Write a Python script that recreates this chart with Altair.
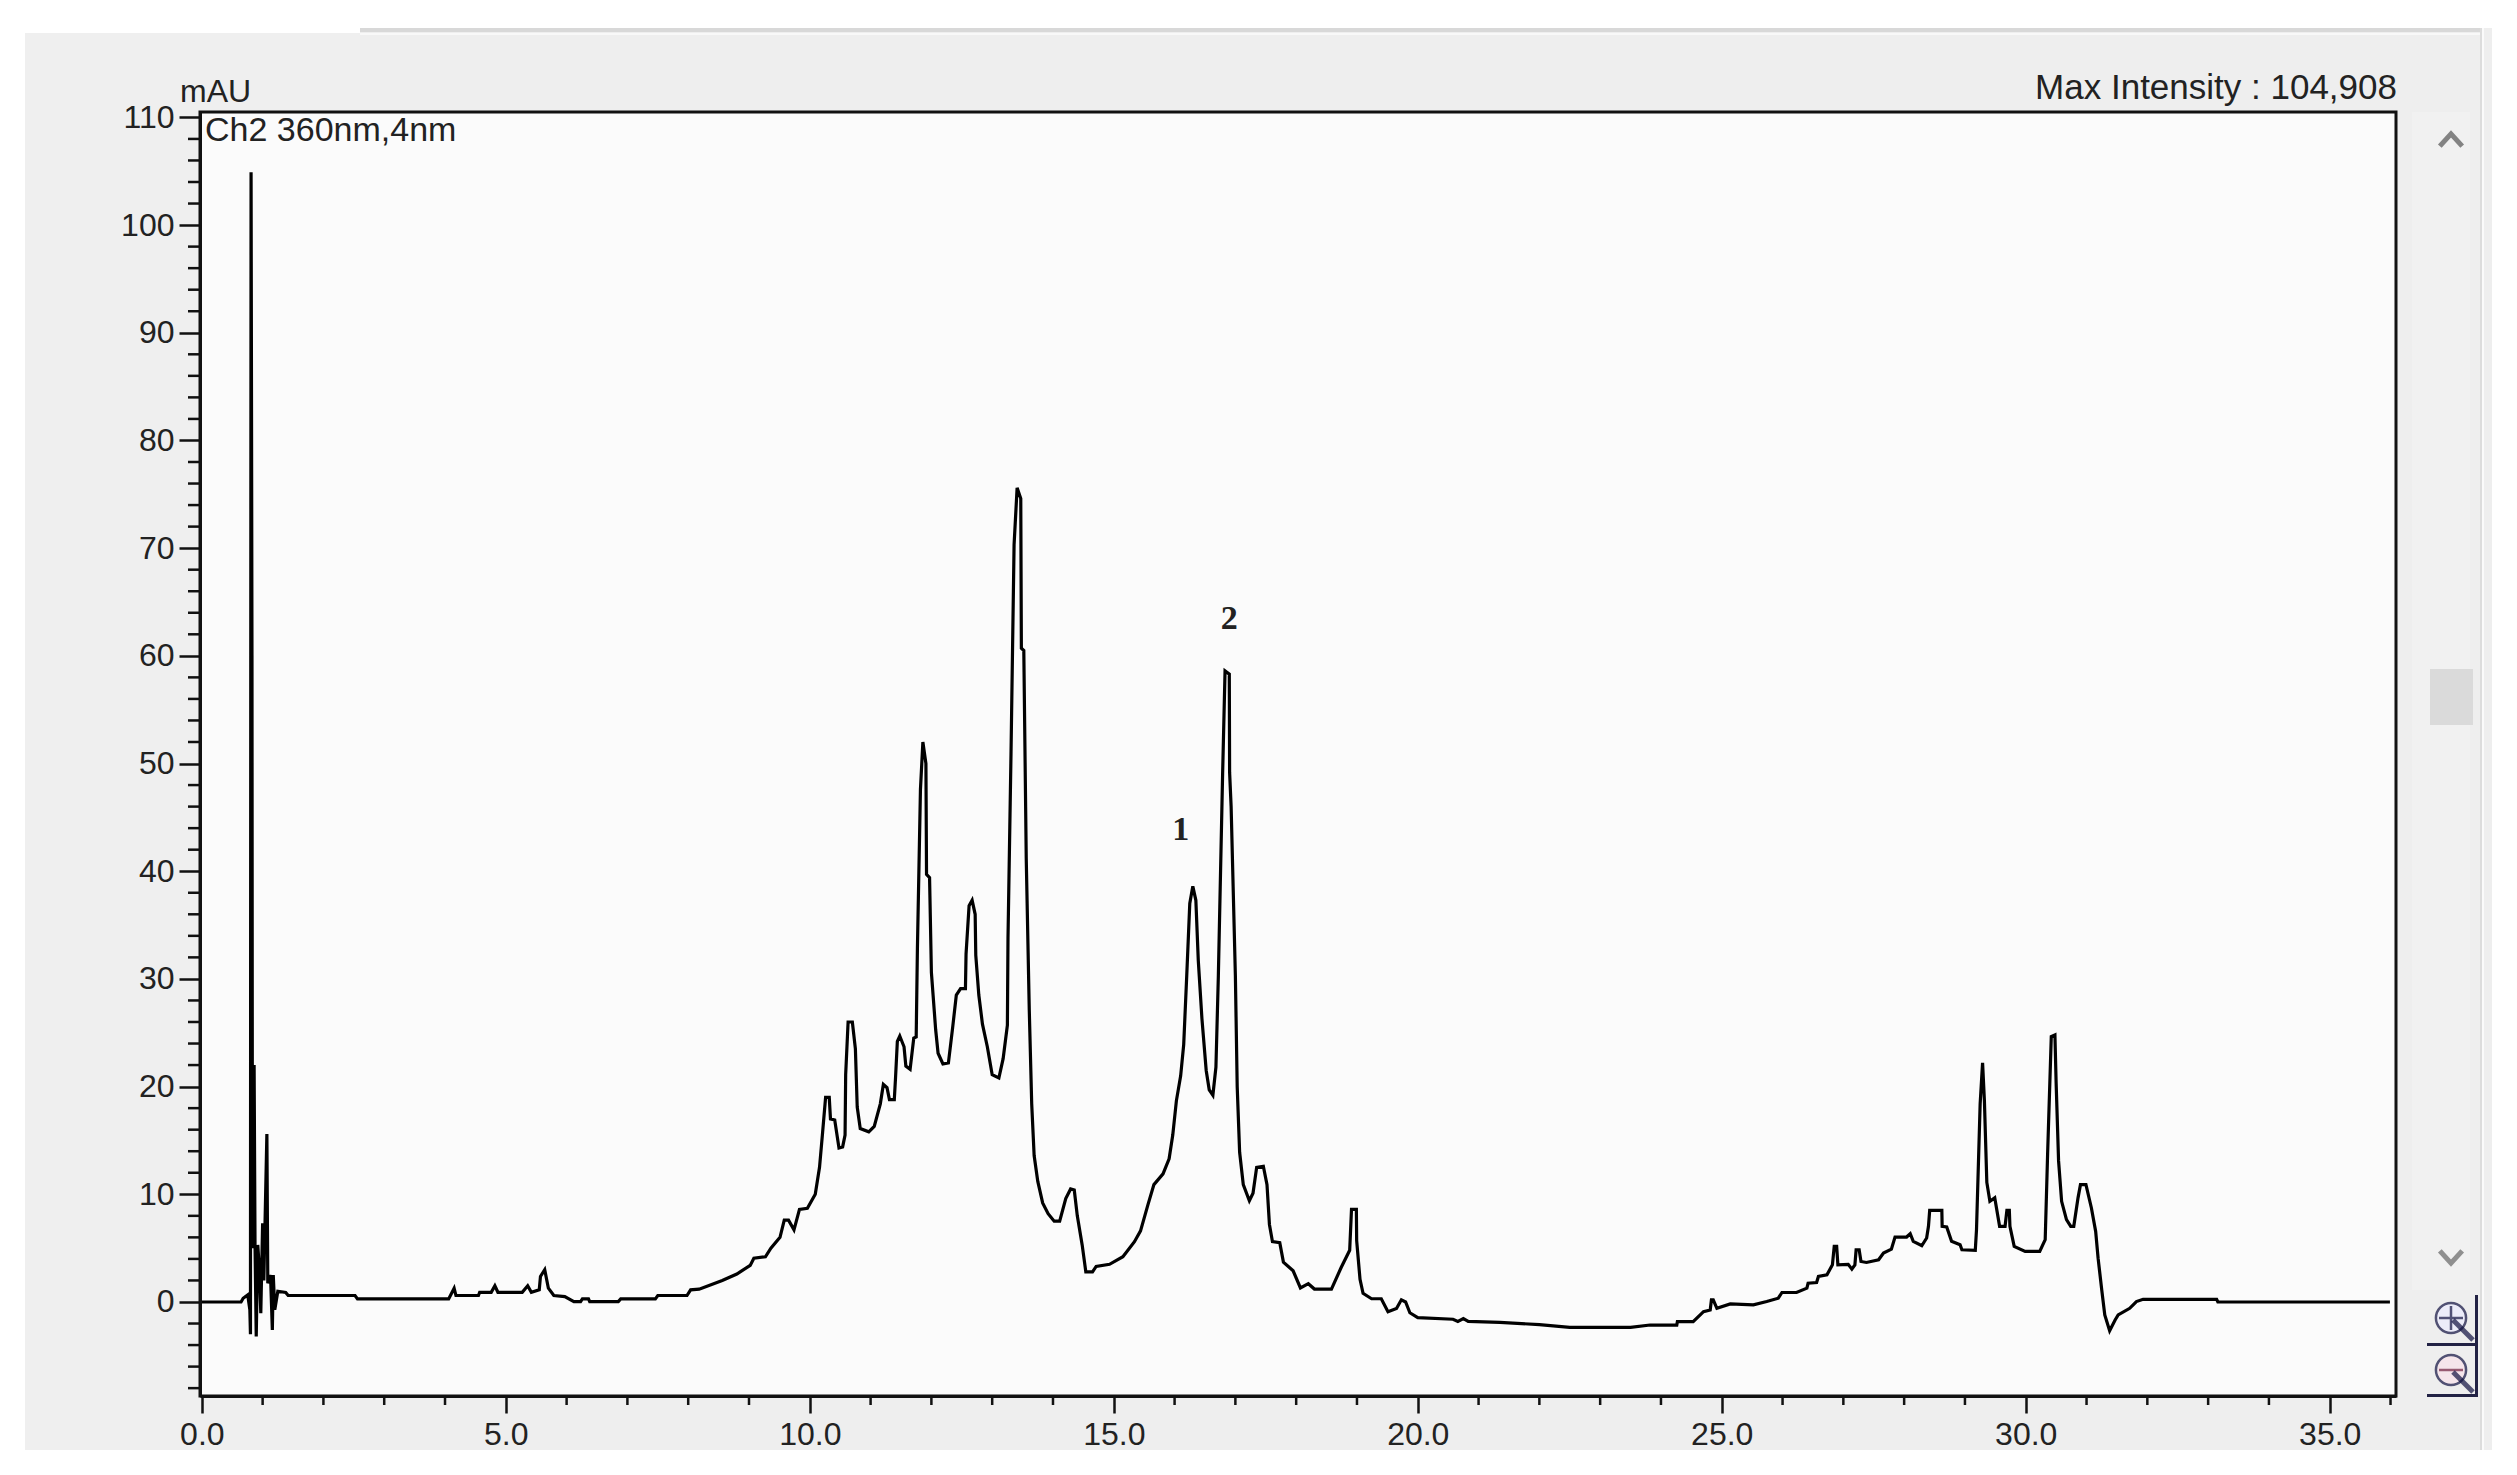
import altair as alt
import pandas as pd

# Chromatogram trace (minutes, mAU)
trace = [
(0,0),(0.645,0),(0.68,0.35),(0.755,0.66),(0.79,-0.73),(0.80,-3.0),(0.805,60),(0.81,104.9),(0.825,60),(0.83,22.3),(0.845,5),(0.86,22),(0.875,5.3),(0.895,-3.2),(0.92,5.3),(0.95,2.8),(0.97,-1.05),(1.0,7.3),(1.02,2),(1.07,15.6),(1.085,1.75),(1.13,2.5),(1.16,-2.6),(1.175,2.5),(1.2,-0.73),(1.25,1.0),
(1.38,0.88),(1.42,0.6),(2.52,0.6),(2.56,0.29),(4.06,0.29),(4.15,1.28),(4.18,0.6),(4.55,0.6),(4.57,0.9),(4.76,0.9),(4.82,1.5),(4.87,0.9),(5.27,0.9),(5.36,1.5),(5.42,0.9),(5.55,1.13),(5.57,2.37),(5.64,3.0),(5.7,1.28),(5.79,0.6),(5.97,0.5),(6.12,0.04),(6.23,0.04),(6.26,0.29),(6.36,0.29),(6.38,0.04),(6.85,0.04),(6.89,0.29),(7.46,0.29),(7.5,0.6),(7.98,0.6),(8.04,1.13),(8.18,1.19),(8.56,2.0),(8.8,2.6),
(9.02,3.4),(9.08,4.06),(9.27,4.2),(9.36,5.0),(9.51,6.0),(9.58,7.6),(9.65,7.6),(9.74,6.7),(9.83,8.6),(9.96,8.7),(10.09,10.0),(10.16,12.5),(10.21,15.7),(10.26,19.0),(10.32,19.0),(10.34,17.0),(10.41,16.9),(10.48,14.3),(10.54,14.4),(10.58,15.5),(10.59,21.1),(10.63,26.0),(10.70,26.0),(10.75,23.5),(10.78,18.1),(10.83,16.1),(10.97,15.8),(11.06,16.3),(11.16,18.4),(11.21,20.2),(11.27,19.9),(11.31,18.8),(11.39,18.8),(11.41,20.8),(11.44,24.2),(11.48,24.7),(11.55,23.7),(11.58,21.9),(11.65,21.6),(11.71,24.5),(11.75,24.6),(11.77,32.8),(11.82,47.6),(11.86,52.0),(11.91,50.0),(11.92,39.7),(11.97,39.4),(12.0,30.6),(12.07,25.3),(12.11,23.1),(12.19,22.1),(12.28,22.2),(12.35,25.5),(12.41,28.5),(12.48,29.1),(12.56,29.1),(12.57,32.3),(12.62,36.8),(12.67,37.3),(12.72,36.0),(12.73,32.2),(12.78,28.5),(12.84,25.8),(12.92,23.7),(13.0,21.1),(13.11,20.8),(13.18,22.6),(13.25,25.7),(13.26,33.8),(13.31,51.1),(13.36,70.3),(13.41,75.6),(13.47,74.6),(13.48,60.7),(13.52,60.5),(13.56,41.2),(13.61,27.1),(13.65,18.4),(13.69,13.6),(13.75,11.2),(13.83,9.2),(13.92,8.2),(14.02,7.5),(14.11,7.5),(14.21,9.6),(14.29,10.5),(14.35,10.4),(14.40,8.0),(14.48,5.3),(14.54,2.8),(14.65,2.8),(14.71,3.3),(14.93,3.5),(15.15,4.2),(15.34,5.6),(15.44,6.6),(15.56,9.0),(15.66,10.9),(15.81,11.9),(15.91,13.3),(15.97,15.5),(16.03,18.7),(16.10,21.0),(16.15,23.9),(16.20,30.3),(16.25,37.0),(16.30,38.6),(16.35,37.3),(16.39,31.7),(16.45,26.3),(16.52,21.5),(16.57,19.7),(16.63,19.2),(16.68,21.8),(16.72,30.3),(16.79,49.0),(16.83,58.6),(16.90,58.3),(16.905,49.2),(16.93,46.0),(17.0,30.3),(17.03,20.0),(17.07,13.9),(17.13,10.9),(17.23,9.4),(17.29,10.1),(17.35,12.5),(17.46,12.6),(17.52,10.9),(17.56,7.2),(17.61,5.6),(17.73,5.5),(17.79,3.7),(17.95,2.9),(18.07,1.3),(18.20,1.7),(18.30,1.2),(18.58,1.2),(18.74,3.2),(18.88,4.8),(18.91,8.6),(18.99,8.6),(18.995,5.7),(19.05,2.1),(19.10,0.8),(19.24,0.3),(19.40,0.3),(19.51,-0.9),(19.65,-0.6),(19.73,0.2),(19.80,0.0),(19.87,-1.0),(20.0,-1.45),(20.58,-1.6),(20.66,-1.8),(20.75,-1.55),(20.83,-1.8),(21.35,-1.9),(22.0,-2.1),(22.5,-2.35),(23.5,-2.35),
(23.82,-2.14),(24.26,-2.14),(24.27,-1.83),(24.53,-1.83),(24.70,-0.9),(24.81,-0.74),(24.83,0.19),(24.86,0.19),(24.92,-0.59),(25.14,-0.18),(25.52,-0.27),(25.74,0.04),(25.93,0.35),(25.99,0.88),(26.23,0.88),(26.40,1.28),(26.42,1.74),(26.56,1.81),(26.59,2.37),(26.73,2.52),(26.82,3.45),(26.85,5.16),(26.89,5.16),(26.91,3.45),(27.08,3.5),(27.14,3.05),(27.19,3.45),(27.21,4.85),(27.26,4.85),(27.29,3.76),(27.38,3.67),(27.58,3.92),(27.66,4.54),(27.79,4.91),(27.85,6.03),(28.04,6.03),(28.10,6.34),(28.15,5.63),(28.29,5.22),(28.37,5.94),(28.40,7.03),(28.42,8.5),(28.62,8.5),(28.625,7.03),(28.70,6.96),(28.78,5.63),(28.92,5.32),(28.95,4.85),(29.17,4.79),(29.19,6.7),(29.25,18.4),(29.29,22.2),(29.32,18.7),(29.36,11.1),(29.41,9.35),(29.49,9.67),(29.57,7.03),(29.66,7.03),(29.69,8.5),(29.73,8.5),(29.74,7.03),(29.81,5.16),(29.99,4.7),(30.23,4.7),(30.32,5.78),(30.36,13.8),(30.42,24.65),(30.48,24.8),(30.50,20.3),(30.54,13.1),(30.59,9.35),(30.67,7.65),(30.74,7.03),(30.79,7.03),(30.86,9.67),(30.90,10.9),(30.99,10.9),(31.08,8.73),(31.15,6.56),(31.19,4.07),(31.25,1.12),(31.30,-1.2),(31.38,-2.67),(31.47,-1.67),(31.52,-1.2),(31.71,-0.59),(31.82,0.04),(31.93,0.25),(33.14,0.25),(33.16,0.0),(35.99,0.0),
]
x_major = [0, 5, 10, 15, 20, 25, 30, 35]
y_major = [0, 10, 20, 30, 40, 50, 60, 70, 80, 90, 100, 110]
x_minor = [v for v in range(0, 37) if v % 5]
y_minor = [v for v in range(-8, 110, 2) if v % 10]
peak_labels = ["1", "2"]
peak_t = [16.1, 16.9]
peak_v = [43.8, 63.4]

W, H = 2196, 1284
XS = alt.Scale(domain=[-0.03, 36.09], nice=False, zero=False)
YS = alt.Scale(domain=[-8.73, 110.5], nice=False, zero=False)
ONE = alt.Data(values=[{}])
SANS = "Liberation Sans"
INK = "#111111"

X_AXIS = alt.Axis(
    values=x_major, format=".1f", grid=False, tickSize=17, tickWidth=2.5, tickColor=INK,
    domainColor=INK, domainWidth=3, labelFont=SANS, labelFontSize=32, labelColor="#222222",
    labelPadding=6, labelBaseline="top", labelFlush=False, labelOverlap=False, zindex=1)
Y_AXIS = alt.Axis(
    values=y_major, grid=False, tickSize=21, tickWidth=2.5, tickColor=INK,
    domainColor=INK, domainWidth=3, labelFont=SANS, labelFontSize=32, labelColor="#222222",
    labelPadding=5, labelFlush=False, labelOverlap=False, zindex=1)


def px(v):      # page pixel -> plot pixel
    return v - 200


def py(v):
    return v - 112


def box(x0, x1, y0, y1, **kw):
    return alt.Chart(ONE).mark_rect(**kw).encode(
        x=alt.value(px(x0)), x2=alt.value(px(x1)), y=alt.value(py(y0)), y2=alt.value(py(y1)))


def glyph(x, y, shape, size, **kw):
    return alt.Chart(ONE).mark_point(shape=shape, size=size, **kw).encode(
        x=alt.value(px(x)), y=alt.value(py(y)))


def label(text, x, y, **kw):
    return alt.Chart(ONE).mark_text(text=text, font=SANS, color="#222222", **kw).encode(
        x=alt.value(px(x)), y=alt.value(py(y)))


chrome = [
    box(25, 360, 33, 1450, color="#EFEFEF"),
    box(360, 2492, 28, 1450, color="#EEEEEE"),
    box(360, 2482, 28, 32, color="#D8D8D8"),
    box(360, 2480, 33, 35, color="#F8F8F8"),
    box(2480, 2482, 28, 1450, color="#DCDCDC"),
    box(2482, 2484, 28, 1450, color="#FAFAFA"),
    box(2412, 2470, 112, 1290, color="#F1F1F1"),
    box(2430, 2473, 669, 725, color="#DADADA"),
    box(200, 2396, 112, 1396, color="#FBFBFB"),
]
arrow_up = "M-1,0.55L0,-0.55L1,0.55"
arrow_down = "M-1,-0.55L0,0.55L1,-0.55"
icons = [
    glyph(2451, 140, arrow_up, 500, filled=False, stroke="#555555", strokeWidth=5),
    glyph(2451, 1257, arrow_down, 500, filled=False, stroke="#666666", strokeWidth=5),
    box(2427, 2478, 1343, 1346, color="#222244"),
    box(2427, 2478, 1394, 1397, color="#222244"),
    box(2475, 2478, 1295, 1397, color="#222244"),
    glyph(2451, 1318, "circle", 908, filled=True, fill="#ECECFF", stroke="#101040", strokeWidth=2.5),
    glyph(2451, 1370, "circle", 908, filled=True, fill="#F8E2EA", stroke="#101040", strokeWidth=2.5),
    glyph(2451, 1318, "M-1,0L1,0M0,-1L0,1", 576, filled=False, stroke="#101040", strokeWidth=2.5),
    glyph(2451, 1370, "M-1,0L1,0", 576, filled=False, stroke="#702040", strokeWidth=2.5),
    glyph(2463, 1330, "M-1,-1L1,1", 400, filled=False, stroke="#101040", strokeWidth=5),
    glyph(2463, 1382, "M-1,-1L1,1", 400, filled=False, stroke="#101040", strokeWidth=5),
]

df = pd.DataFrame(trace, columns=["t", "v"])
line = alt.Chart(df).mark_line(color="#000000", strokeWidth=3.2, interpolate="linear", strokeJoin="miter").encode(
    x=alt.X("t:Q", scale=XS, sort=None, title=None, axis=X_AXIS),
    y=alt.Y("v:Q", scale=YS, title=None, axis=Y_AXIS),
)

minor_x = alt.Chart(pd.DataFrame({"t": x_minor})).mark_rule(color=INK, strokeWidth=2.5).encode(
    x=alt.X("t:Q", scale=XS, title=None, axis=X_AXIS), y=alt.value(H), y2=alt.value(H + 9))
minor_y = alt.Chart(pd.DataFrame({"v": y_minor})).mark_rule(color=INK, strokeWidth=2.5).encode(
    y=alt.Y("v:Q", scale=YS, title=None, axis=Y_AXIS), x=alt.value(-12), x2=alt.value(0))

frame = alt.Chart(ONE).mark_rect(fill=None, stroke=INK, strokeWidth=3).encode(
    x=alt.value(0), x2=alt.value(W), y=alt.value(0), y2=alt.value(H))

peaks = alt.Chart(pd.DataFrame({"t": peak_t, "v": peak_v, "s": peak_labels})).mark_text(
    font="Liberation Serif", fontWeight="bold", fontSize=34, color="#222222").encode(
    x=alt.X("t:Q", scale=XS, title=None, axis=X_AXIS),
    y=alt.Y("v:Q", scale=YS, title=None, axis=Y_AXIS), text="s:N")

texts = [
    label("mAU", 180, 92, fontSize=32, align="left", baseline="middle"),
    label("Ch2 360nm,4nm", 205, 131, fontSize=34, align="left", baseline="middle"),
    label("Max Intensity : 104,908", 2397, 88, fontSize=35, align="right", baseline="middle"),
]

chart = alt.layer(*chrome, minor_x, minor_y, line, frame, peaks, *texts, *icons).properties(
    width=W, height=H,
    padding={"left": 17, "top": 20, "right": 0, "bottom": 0},
    background="#FFFFFF",
).configure_view(stroke=None)

chart.save("out.html", embed_options={"renderer": "svg", "actions": False})
